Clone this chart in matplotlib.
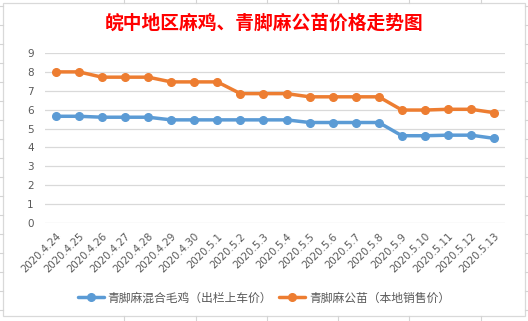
import matplotlib
matplotlib.use("Agg")
import matplotlib.pyplot as plt
from matplotlib.lines import Line2D
from matplotlib.patches import Rectangle

dates = ["2020.4.24", "2020.4.25", "2020.4.26", "2020.4.27", "2020.4.28", "2020.4.29",
         "2020.4.30", "2020.5.1", "2020.5.2", "2020.5.3", "2020.5.4", "2020.5.5",
         "2020.5.6", "2020.5.7", "2020.5.8", "2020.5.9", "2020.5.10", "2020.5.11",
         "2020.5.12", "2020.5.13"]
mixed_chicken = [5.65, 5.65, 5.6, 5.6, 5.6, 5.46, 5.46, 5.46, 5.46, 5.46, 5.46, 5.32,
                 5.32, 5.32, 5.32, 4.62, 4.62, 4.65, 4.65, 4.48]
rooster_chick = [8.0, 8.0, 7.72, 7.72, 7.72, 7.47, 7.47, 7.47, 6.85, 6.85, 6.85, 6.68,
                 6.68, 6.68, 6.68, 5.98, 5.98, 6.02, 6.02, 5.84]
series_names = ["青脚麻混合毛鸡（出栏上车价）", "青脚麻公苗（本地销售价）"]
title = "皖中地区麻鸡、青脚麻公苗价格走势图"
yticks = list(range(0, 10))

plt.rcParams['font.family'] = ['Noto Sans CJK SC', 'DejaVu Sans']

W, H = 528, 321
fig = plt.figure(figsize=(W / 100, H / 100), dpi=100)
fig.patch.set_facecolor("white")

# Spreadsheet cell grid outside the chart object
cell = "#D4D4D4"
def fx(x): return x / W
def fy(y): return 1 - y / H
for x in [124, 196, 267, 338, 409, 481]:
    fig.add_artist(Line2D([fx(x), fx(x)], [fy(0), fy(3)], color=cell, lw=0.8))
    fig.add_artist(Line2D([fx(x), fx(x)], [fy(316), fy(321)], color=cell, lw=0.8))
for y in range(6, 321, 19):
    fig.add_artist(Line2D([fx(0), fx(3)], [fy(y), fy(y)], color=cell, lw=0.8))
    fig.add_artist(Line2D([fx(525), fx(528)], [fy(y), fy(y)], color=cell, lw=0.8))
fig.add_artist(Rectangle((fx(3), fy(316)), fx(522), 313 / H, fill=False,
                         edgecolor="#D9D9D9", lw=0.9))

ax = fig.add_axes([45 / W, 1 - 223 / H, 460 / W, 170 / H])
x = list(range(len(dates)))
blue, orange = "#5B9BD5", "#ED7D31"
ax.plot(x, mixed_chicken, color=blue, lw=2.5, marker="o", ms=5.5, label=series_names[0],
        solid_capstyle="round", zorder=3)
ax.plot(x, rooster_chick, color=orange, lw=2.5, marker="o", ms=5.5, label=series_names[1],
        solid_capstyle="round", zorder=3)

ax.set_xlim(-0.47, len(dates) - 0.53)
ax.set_ylim(0, 9)
ax.set_yticks(yticks)
ax.set_yticklabels([str(v) for v in yticks], fontsize=7.5, color="#595959",
                   family=['DejaVu Sans'])
ax.set_xticks(x)
ax.set_xticklabels(dates, rotation=45, ha="right", va="top", fontsize=7.4,
                   color="#595959", family=['DejaVu Sans'], rotation_mode="anchor")
ax.tick_params(axis="both", length=0)
ax.tick_params(axis="x", pad=6)
ax.tick_params(axis="y", pad=8)
for s in ax.spines.values():
    s.set_visible(False)
ax.grid(axis="y", color="#D9D9D9", lw=0.9)
ax.set_axisbelow(True)

fig.text(0.5, 1 - 23 / H, title, ha="center", va="center", fontsize=13.5,
         color="#FF0000", fontweight="bold")

leg = fig.legend(loc="center", bbox_to_anchor=(0.5, 1 - 298 / H), ncol=2, frameon=False,
                 fontsize=8.5, handlelength=2.2, columnspacing=0.6, handletextpad=0.3)
for t in leg.get_texts():
    t.set_color("#595959")

fig.savefig("out.png", dpi=100, facecolor="white")
